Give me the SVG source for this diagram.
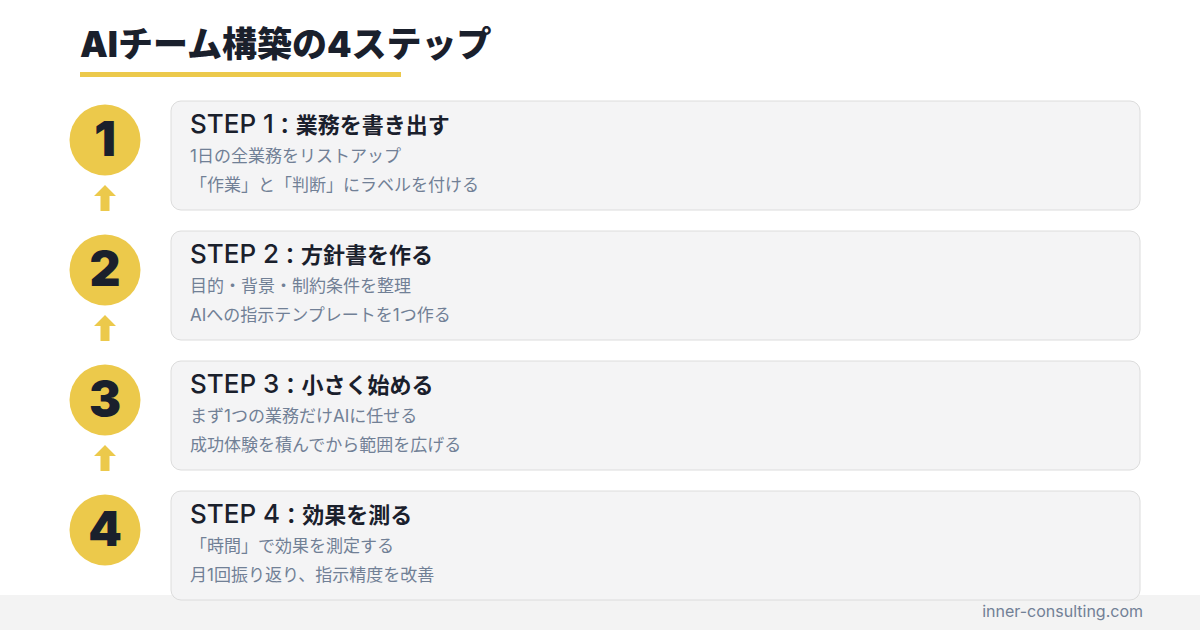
<svg xmlns="http://www.w3.org/2000/svg" width="1200" height="630" viewBox="0 0 1200 630">
<style>
.jp{font-family:Inter,"Noto Sans CJK JP","Noto Sans",sans-serif}
.cjk{font-family:"Noto Sans CJK JP",sans-serif}
.title{font-size:35px;font-weight:900;fill:#1a202c}
.num{font-size:48px;font-weight:900;fill:#1a202c;text-anchor:middle}
.st{font-size:22px;font-weight:600;fill:#1a202c}
.lat{font-size:26px;font-weight:500}
.sub{font-size:17px;font-weight:400;fill:#718096}
.foot{font-size:16px}
.card{fill:#f4f4f5;stroke:#dcdcdc;stroke-width:1}
.circ{fill:#ecc94b}
.arr{fill:#ecc94b}
</style>
<rect x="0" y="0" width="1200" height="630" fill="#ffffff"/>
<rect x="0" y="595" width="1200" height="35" fill="#f3f3f3"/>
<g id="title">
<text class="jp title" x="80" y="57">AIチーム構築の4ステップ</text>
<rect x="80" y="72" width="321" height="5" fill="#ecc94b"/>
</g>
<g id="connectors">
<path class="arr" d="M105 185 L116 196 L109.5 196 L109.5 211 L100.5 211 L100.5 196 L94 196 Z"/>
<path class="arr" d="M105 315 L116 326 L109.5 326 L109.5 341 L100.5 341 L100.5 326 L94 326 Z"/>
<path class="arr" d="M105 445 L116 456 L109.5 456 L109.5 471 L100.5 471 L100.5 456 L94 456 Z"/>
</g>
<g id="step1">
<circle class="circ" cx="105" cy="140" r="35.5"/>
<text class="jp num" x="105" y="156">1</text>
<rect class="card" x="171" y="101" width="969" height="109" rx="10"/>
<text class="jp st" x="190" y="133"><tspan class="lat">STEP 1</tspan><tspan class="cjk">：業務を書き出す</tspan></text>
<text class="jp sub" x="190" y="162">1日の全業務をリストアップ</text>
<text class="jp sub" x="190" y="191">「作業」と「判断」にラベルを付ける</text>
</g>
<g id="step2">
<circle class="circ" cx="105" cy="270" r="35.5"/>
<text class="jp num" x="105" y="286">2</text>
<rect class="card" x="171" y="231" width="969" height="109" rx="10"/>
<text class="jp st" x="190" y="263"><tspan class="lat">STEP 2</tspan><tspan class="cjk">：方針書を作る</tspan></text>
<text class="jp sub" x="190" y="292">目的・背景・制約条件を整理</text>
<text class="jp sub" x="190" y="321">AIへの指示テンプレートを1つ作る</text>
</g>
<g id="step3">
<circle class="circ" cx="105" cy="400" r="35.5"/>
<text class="jp num" x="105" y="416">3</text>
<rect class="card" x="171" y="361" width="969" height="109" rx="10"/>
<text class="jp st" x="190" y="393"><tspan class="lat">STEP 3</tspan><tspan class="cjk">：小さく始める</tspan></text>
<text class="jp sub" x="190" y="422">まず1つの業務だけAIに任せる</text>
<text class="jp sub" x="190" y="451">成功体験を積んでから範囲を広げる</text>
</g>
<g id="step4">
<circle class="circ" cx="105" cy="530" r="35.5"/>
<text class="jp num" x="105" y="546">4</text>
<rect class="card" x="171" y="491" width="969" height="109" rx="10"/>
<text class="jp st" x="190" y="523"><tspan class="lat">STEP 4</tspan><tspan class="cjk">：効果を測る</tspan></text>
<text class="jp sub" x="190" y="552">「時間」で効果を測定する</text>
<text class="jp sub" x="190" y="581">月1回振り返り、指示精度を改善</text>
</g>
<text class="jp sub foot" x="1143" y="617" text-anchor="end">inner-consulting.com</text>
</svg>
